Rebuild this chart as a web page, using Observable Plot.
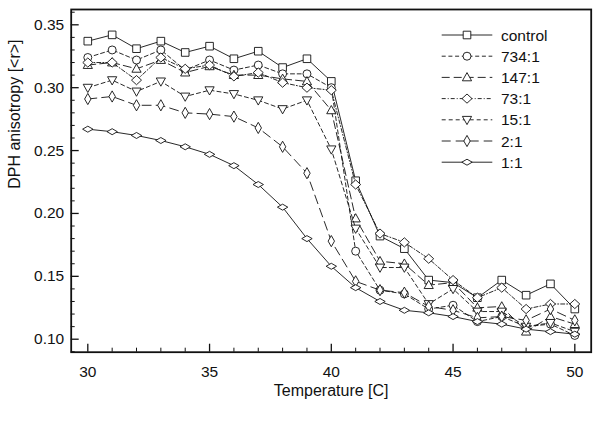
<!DOCTYPE html>
<html><head><meta charset="utf-8">
<script src="https://cdn.jsdelivr.net/npm/d3@7"></script>
<script src="https://cdn.jsdelivr.net/npm/@observablehq/plot@0.6"></script>
<style>body{margin:0;background:#fff;} svg{font-family:"Liberation Sans",Arial,sans-serif;}</style>
</head><body><div id="chart"></div>
<script>
// Temperatures (x)
const temps = [30,31,32,33,34,35,36,37,38,39,40,41,42,43,44,45,46,47,48,49,50];
// Series values (DPH anisotropy)
const control = [0.337,0.342,0.331,0.337,0.328,0.333,0.323,0.329,0.316,0.323,0.305,0.226,0.182,0.172,0.147,0.145,0.133,0.147,0.135,0.144,0.124];
const r734   = [0.324,0.330,0.322,0.330,0.314,0.322,0.314,0.318,0.311,0.311,0.300,0.170,0.139,0.136,0.124,0.127,0.114,0.118,0.110,0.112,0.103];
const r147   = [0.318,0.320,0.315,0.322,0.312,0.317,0.310,0.310,0.307,0.305,0.282,0.196,0.162,0.160,0.143,0.145,0.125,0.126,0.106,0.118,0.112];
const r73    = [0.320,0.320,0.306,0.324,0.315,0.318,0.309,0.312,0.304,0.300,0.298,0.223,0.184,0.177,0.164,0.147,0.133,0.141,0.124,0.128,0.128];
const r15    = [0.300,0.306,0.297,0.305,0.293,0.298,0.295,0.290,0.283,0.290,0.251,0.188,0.157,0.157,0.128,0.140,0.122,0.122,0.110,0.113,0.106];
const r2     = [0.291,0.293,0.286,0.286,0.280,0.279,0.277,0.268,0.253,0.232,0.178,0.146,0.139,0.137,0.126,0.123,0.117,0.118,0.115,0.124,0.115];
const r1     = [0.267,0.265,0.262,0.258,0.253,0.247,0.238,0.223,0.205,0.180,0.158,0.141,0.130,0.123,0.121,0.118,0.114,0.112,0.108,0.106,0.104];

const seriesNames = ["control","734:1","147:1","73:1","15:1","2:1","1:1"];
const seriesValues = [control, r734, r147, r73, r15, r2, r1];
const xMajor = [30,35,40,45,50];
const xMinor = [31,32,33,34,36,37,38,39,41,42,43,44,46,47,48,49];
const yMajor = [0.10,0.15,0.20,0.25,0.30,0.35];
const yMinor = [0.09,0.11,0.12,0.13,0.14,0.16,0.17,0.18,0.19,0.21,0.22,0.23,0.24,0.26,0.27,0.28,0.29,0.31,0.32,0.33,0.34,0.36];

const dashes = [null,"4,2.7","8,4","4,2,1,2","4,3","9,5",null];

function poly(pts){return {draw(ctx,size){const k=Math.sqrt(size/Math.PI)/4;ctx.moveTo(pts[0][0]*k,pts[0][1]*k);for(let i=1;i<pts.length;i++)ctx.lineTo(pts[i][0]*k,pts[i][1]*k);ctx.closePath();}};}
const circleSym = {draw(ctx,size){const r=Math.sqrt(size/Math.PI);ctx.moveTo(r,0);ctx.arc(0,0,r,0,2*Math.PI);}};
const symbols = [
  poly([[-3.8,-3.8],[3.8,-3.8],[3.8,3.8],[-3.8,3.8]]),
  circleSym,
  poly([[0,-4.8],[4.6,3.4],[-4.6,3.4]]),
  poly([[0,-4.6],[5,0],[0,4.6],[-5,0]]),
  poly([[0,4.8],[4.6,-3.4],[-4.6,-3.4]]),
  poly([[0,-5.6],[3.2,0],[0,5.6],[-3.2,0]]),
  poly([[0,-3],[5.2,0],[0,3],[-5.2,0]])
];

const rows = [];
seriesNames.forEach((s,i)=>temps.forEach((t,j)=>rows.push({series:s, idx:i, t, v:seriesValues[i][j]})));

const W=600,H=423, mL=70.7, mR=9.3, mT=9, mB=71.3;
const plotH = H-mT-mB, plotW = W-mL-mR;

const marks = [];
seriesNames.forEach((s,i)=>{
  const d = rows.filter(r=>r.idx===i);
  marks.push(Plot.line(d,{x:"t",y:"v",stroke:"#111",strokeWidth:0.9,strokeDasharray:dashes[i]||undefined}));
  marks.push(Plot.dot(d,{x:"t",y:"v",r:4,symbol:symbols[i],fill:"white",stroke:"#111",strokeWidth:0.9}));
});

const chart = Plot.plot({
  width:W, height:H, marginLeft:mL, marginRight:mR, marginTop:mT, marginBottom:mB,
  style:{fontFamily:"'Liberation Sans', Arial, sans-serif", fontSize:"15px", color:"#111", background:"white"},
  x:{domain:[29.318,50.673]},
  y:{domain:[0.08967,0.36217]},
  marks:[
    ...marks,
    Plot.ruleX(xMajor,{x:d=>d, insetTop:plotH-8, stroke:"#111", strokeWidth:1.3}),
    Plot.ruleX(xMinor,{x:d=>d, insetTop:plotH-4, stroke:"#111", strokeWidth:1}),
    Plot.ruleY(yMajor,{y:d=>d, insetRight:plotW-8, stroke:"#111", strokeWidth:1.3}),
    Plot.ruleY(yMinor.filter(v=>v>0.0897&&v<0.362),{y:d=>d, insetRight:plotW-4, stroke:"#111", strokeWidth:1}),
    Plot.frame({stroke:"#111", strokeWidth:1.8}),
    Plot.axisX({ticks:xMajor, tickSize:0, tickPadding:14, tickFormat:d3.format("d"), label:null, fontSize:15.5}),
    Plot.axisY({ticks:yMajor, tickSize:0, tickPadding:7, tickFormat:d3.format(".2f"), label:null, fontSize:15.5}),
    Plot.text(["Temperature [C]"],{frameAnchor:"bottom", dy:44, fontSize:16, fill:"#111"}),
    Plot.text(["DPH anisotropy [<r>]"],{frameAnchor:"left", dx:-56, dy:8, rotate:-90, fontSize:16, fill:"#111"})
  ]
});
document.getElementById("chart").appendChild(chart);

// Legend inside plot (top right)
const svg = d3.select(chart);
const lg = svg.append("g").attr("class","legend").attr("text-anchor","start");
seriesNames.forEach((s,i)=>{
  const y = 35 + i*21.2;
  lg.append("line").attr("x1",441.7).attr("x2",492.3).attr("y1",y).attr("y2",y)
    .attr("stroke","#111").attr("stroke-width",0.9).attr("stroke-dasharray",dashes[i]||null);
  const p = d3.path(); symbols[i].draw(p, Math.PI*16);
  lg.append("path").attr("d",p.toString()).attr("transform",`translate(467,${y})`)
    .attr("fill","white").attr("stroke","#111").attr("stroke-width",0.9);
  lg.append("text").attr("x",501).attr("y",y).attr("dy","0.36em").attr("text-anchor","start")
    .attr("font-size",15.5).attr("fill","#111").text(s);
});
</script>
</body></html>
